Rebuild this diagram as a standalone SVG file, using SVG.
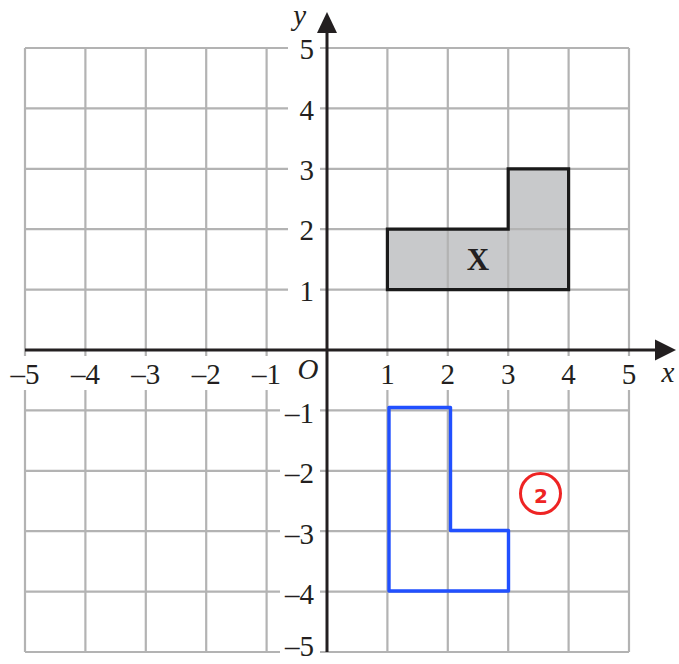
<svg xmlns="http://www.w3.org/2000/svg" width="679" height="664" viewBox="0 0 679 664">
<style>
.grid{stroke:#b3b3b3;stroke-width:2.2;fill:none}
.bg{fill:#ffffff}
.axis{stroke:#231f20;stroke-width:3;fill:none}
.num{font-family:"Liberation Serif","Times New Roman",serif;font-size:29px;fill:#231f20}
.xl{text-anchor:middle}
.yl{text-anchor:end}
.it{font-style:italic}
</style>
<rect width="679" height="664" fill="#ffffff"/>
<g id="shape-x-fill">
<path d="M387.4,289.6 L568.6,289.6 L568.6,168.8 L508.2,168.8 L508.2,229.2 L387.4,229.2 Z" fill="#c8c9cb"/>
</g>
<g id="grid">
<path class="grid" d="M25,48 V652 M85.4,48 V652 M145.8,48 V652 M206.2,48 V652 M266.6,48 V652 M387.4,48 V652 M447.8,48 V652 M508.2,48 V652 M568.6,48 V652 M629,48 V652
M25,48 H629 M25,108.4 H629 M25,168.8 H629 M25,229.2 H629 M25,289.6 H629 M25,410.4 H629 M25,470.8 H629 M25,531.2 H629 M25,591.6 H629 M25,652 H629"/>
</g>
<g id="label-backgrounds">
<rect class="bg" x="7" y="356" width="36" height="34"/>
<rect class="bg" x="67" y="356" width="37" height="34"/>
<rect class="bg" x="128" y="356" width="37" height="34"/>
<rect class="bg" x="188" y="356" width="37" height="34"/>
<rect class="bg" x="248" y="356" width="37" height="34"/>
<rect class="bg" x="378" y="356" width="19" height="34"/>
<rect class="bg" x="438" y="356" width="20" height="34"/>
<rect class="bg" x="498" y="356" width="20" height="34"/>
<rect class="bg" x="559" y="356" width="20" height="34"/>
<rect class="bg" x="619" y="356" width="20" height="34"/>
<rect class="bg" x="288" y="35" width="32" height="27"/>
<rect class="bg" x="288" y="95" width="32" height="27"/>
<rect class="bg" x="288" y="156" width="32" height="27"/>
<rect class="bg" x="288" y="216" width="32" height="27"/>
<rect class="bg" x="288" y="277" width="32" height="27"/>
<rect class="bg" x="280" y="397" width="40" height="28"/>
<rect class="bg" x="280" y="457" width="40" height="28"/>
<rect class="bg" x="280" y="518" width="40" height="28"/>
<rect class="bg" x="280" y="578" width="40" height="28"/>
<rect class="bg" x="280" y="636" width="40" height="28"/>
</g>
<g id="shape-x">
<path d="M387.4,289.6 L568.6,289.6 L568.6,168.8 L508.2,168.8 L508.2,229.2 L387.4,229.2 Z" fill="none" stroke="#1a1a1a" stroke-width="3.2" stroke-linejoin="miter"/>
<text x="478" y="270" font-family="'Liberation Serif','Times New Roman',serif" font-size="31" font-weight="bold" fill="#231f20" text-anchor="middle">X</text>
</g>
<g id="axes">
<path class="axis" d="M25,350 H658 M327,652 V30"/>
<polygon points="676,350 655,339.5 655,360.5" fill="#231f20"/>
<polygon points="327,12 317,33 337,33" fill="#231f20"/>
</g>
<g id="x-labels" class="num xl">
<text x="25" y="384">–5</text>
<text x="85.4" y="384">–4</text>
<text x="145.8" y="384">–3</text>
<text x="206.2" y="384">–2</text>
<text x="266.6" y="384">–1</text>
<text x="387.4" y="384">1</text>
<text x="447.8" y="384">2</text>
<text x="508.2" y="384">3</text>
<text x="568.6" y="384">4</text>
<text x="629" y="384">5</text>
<text class="it" x="308" y="379">O</text>
<text class="it" x="668" y="382">x</text>
</g>
<g id="y-labels" class="num yl">
<text x="314" y="59">5</text>
<text x="314" y="119.5">4</text>
<text x="314" y="179.5">3</text>
<text x="314" y="240">2</text>
<text x="314" y="300.5">1</text>
<text x="314" y="423">–1</text>
<text x="314" y="483">–2</text>
<text x="314" y="543.5">–3</text>
<text x="314" y="604">–4</text>
<text x="314" y="656">–5</text>
<text class="it" x="306" y="25">y</text>
</g>
<g id="shape-blue">
<path d="M389,407.5 L450.5,407.5 L450.5,530.5 L508.5,530.5 L508.5,591 L389,591 Z" fill="none" stroke="#2150ff" stroke-width="3.4" stroke-linejoin="round" stroke-linecap="round"/>
</g>
<g id="mark">
<circle cx="540.5" cy="493.5" r="20" fill="none" stroke="#ee2424" stroke-width="3"/>
<text x="541" y="503" font-family="'DejaVu Sans','Liberation Sans',sans-serif" font-size="20" font-weight="bold" fill="#ee2424" text-anchor="middle">2</text>
</g>
</svg>
